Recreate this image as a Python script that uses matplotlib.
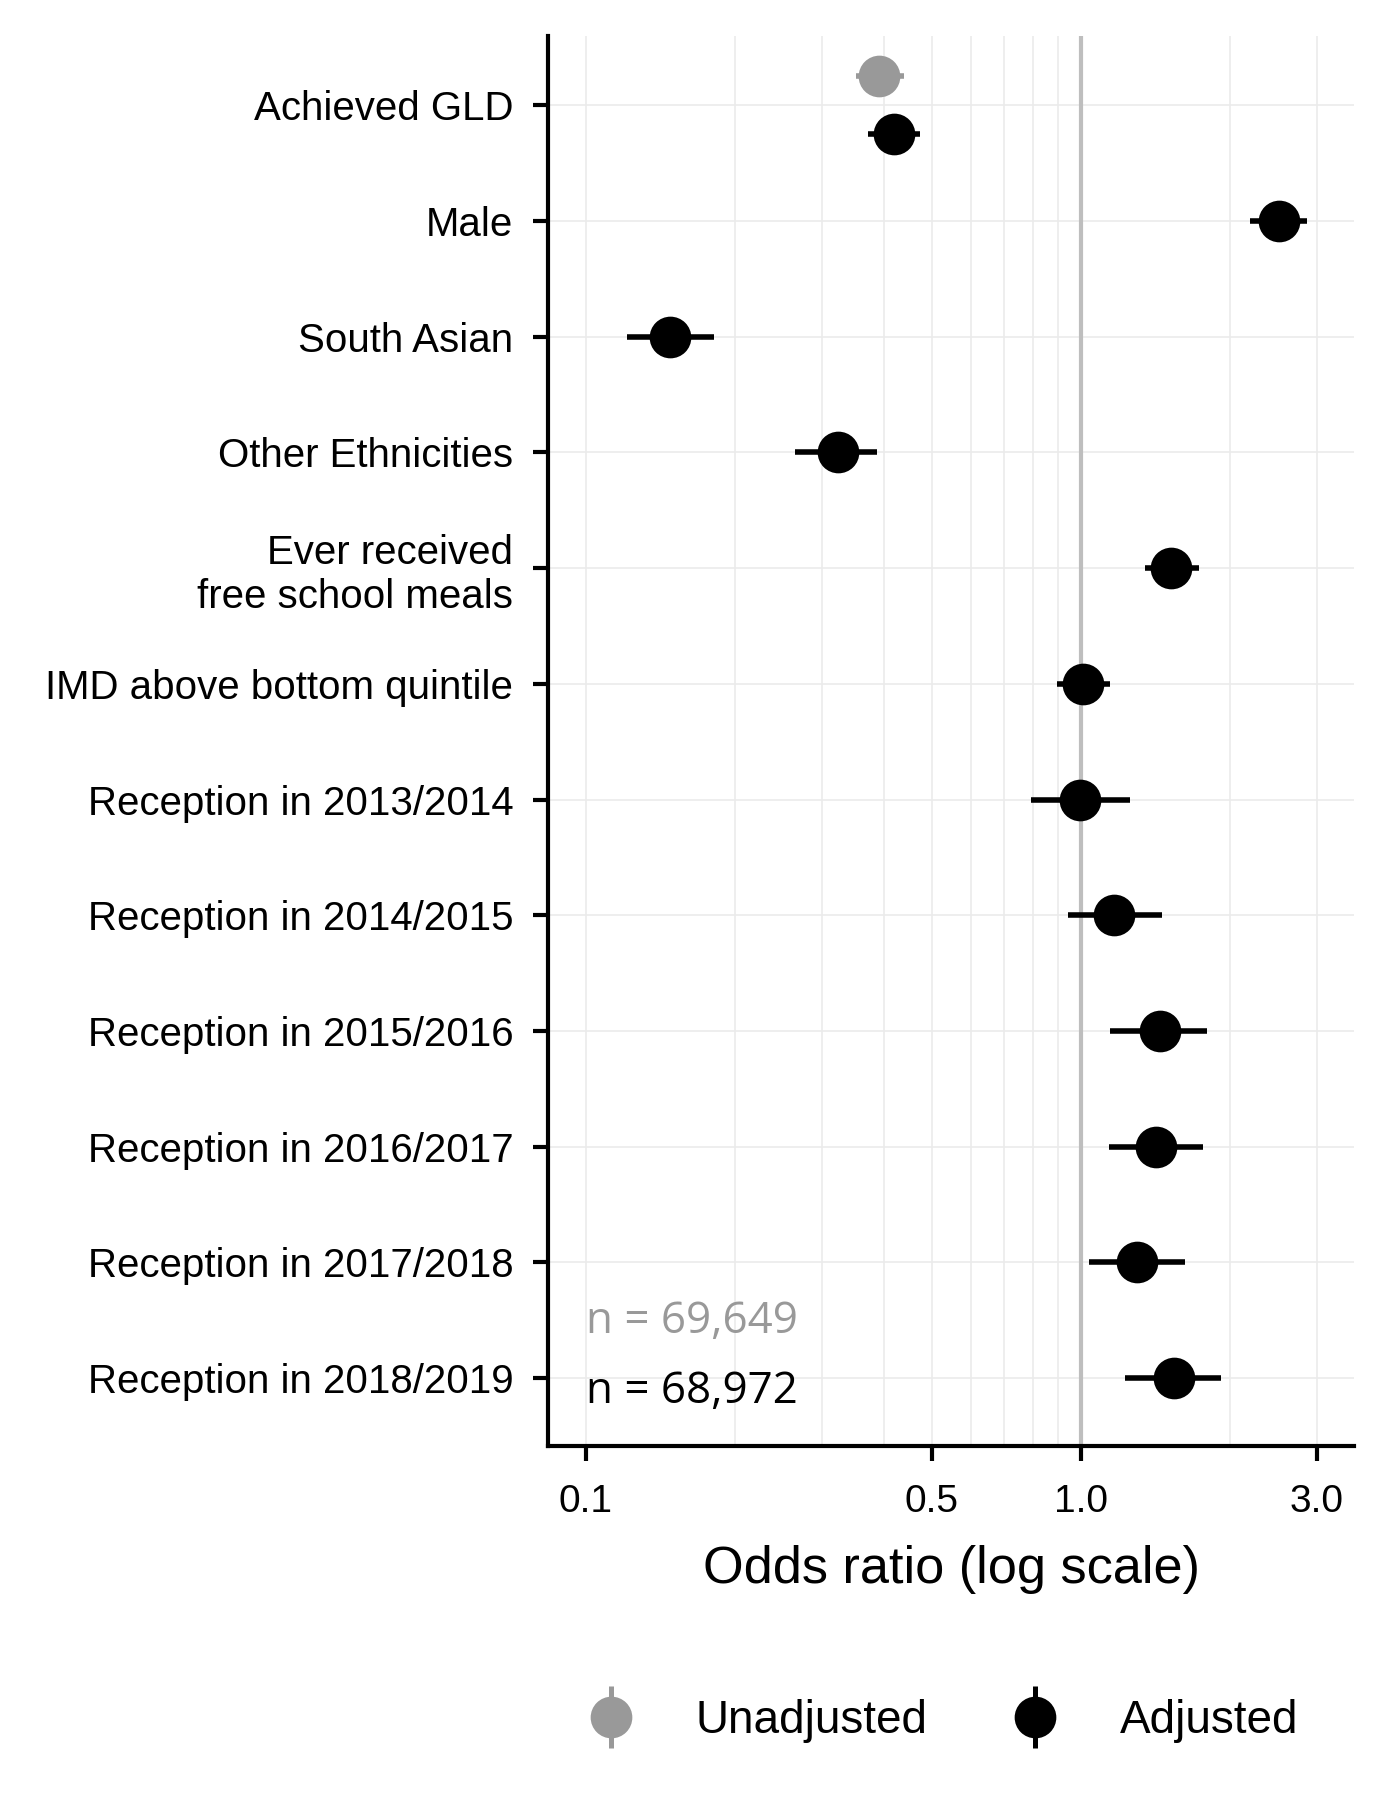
import numpy as np
import matplotlib
matplotlib.use('Agg')
import matplotlib.pyplot as plt
from matplotlib.lines import Line2D

plt.rcParams['font.family'] = ['Liberation Sans', 'DejaVu Sans']

## categories, top to bottom
categories = ['Achieved GLD', 'Male', 'South Asian', 'Other Ethnicities',
              'Ever received\nfree school meals', 'IMD above bottom quintile',
              'Reception in 2013/2014', 'Reception in 2014/2015',
              'Reception in 2015/2016', 'Reception in 2016/2017',
              'Reception in 2017/2018', 'Reception in 2018/2019']

## adjusted odds ratios with 95% CI
adj_or = [0.420, 2.515, 0.148, 0.323, 1.524, 1.011, 0.997, 1.167, 1.444, 1.421, 1.298, 1.540]
adj_lo = [0.371, 2.200, 0.121, 0.265, 1.348, 0.894, 0.795, 0.943, 1.148, 1.142, 1.038, 1.231]
adj_hi = [0.474, 2.870, 0.182, 0.387, 1.731, 1.148, 1.258, 1.460, 1.798, 1.769, 1.624, 1.917]

## unadjusted (only the exposure)
unadj_cat = ['Achieved GLD']
unadj_or = [0.391]
unadj_lo = [0.351]
unadj_hi = [0.440]

n_unadj = 'n = 69,649'
n_adj = 'n = 68,972'

grey = '#999999'

fig = plt.figure(figsize=(6.945, 9), dpi=200)
ax = fig.add_axes([0.3945, 0.1965, 0.5805, 0.7835])

ypos = np.arange(len(categories))
# dodge rows that have both estimates
dodge = np.array([0.25 if c in unadj_cat else 0.0 for c in categories])

ax.axvline(1.0, color='#BEBEBE', lw=1.5, zorder=1)

y_adj = ypos + dodge
ax.hlines(y_adj, adj_lo, adj_hi, color='black', lw=2.0, zorder=3)
ax.plot(adj_or, y_adj, 'o', color='black', ms=14, zorder=4)

y_un = np.array([categories.index(c) for c in unadj_cat]) - 0.25
ax.hlines(y_un, unadj_lo, unadj_hi, color=grey, lw=2.0, zorder=3)
ax.plot(unadj_or, y_un, 'o', color=grey, ms=14, zorder=4)

ax.text(0.1, 10.51, n_unadj, color=grey, fontsize=15.8, va='center', ha='left',
        family=['Open Sans', 'DejaVu Sans'])
ax.text(0.1, 11.12, n_adj, color='black', fontsize=15.8, va='center', ha='left',
        family=['Open Sans', 'DejaVu Sans'])

ax.set_xscale('log')
ax.set_xlim(0.0839, 3.57)
ax.set_ylim(11.59, -0.6)
ax.set_xticks([0.1, 0.5, 1.0, 3.0])
ax.set_xticklabels(['0.1', '0.5', '1.0', '3.0'])
ax.set_xticks([0.2, 0.3, 0.4, 0.6, 0.7, 0.8, 0.9, 2.0], minor=True)
ax.xaxis.set_minor_formatter(plt.NullFormatter())
ax.set_yticks(ypos)
ax.set_yticklabels(categories)

ax.grid(True, which='both', axis='x', color='#EBEBEB', lw=0.6, zorder=0)
ax.grid(True, which='major', axis='y', color='#EBEBEB', lw=0.6, zorder=0)
ax.set_axisbelow(True)

for s in ['top', 'right']:
    ax.spines[s].set_visible(False)
for s in ['left', 'bottom']:
    ax.spines[s].set_linewidth(1.5)
ax.tick_params(axis='both', which='major', length=5.5, width=1.5, color='black')
ax.tick_params(axis='y', labelsize=14.5, pad=7)
ax.tick_params(axis='x', labelsize=14, pad=8)
ax.tick_params(axis='x', which='minor', length=0)

ax.set_xlabel('Odds ratio (log scale)', fontsize=18.8, labelpad=9)

h_un = (Line2D([], [], marker='|', ms=22, mew=1.8, color=grey, ls='none'),
        Line2D([], [], marker='o', ms=14, color=grey, ls='none'))
h_adj = (Line2D([], [], marker='|', ms=22, mew=1.8, color='black', ls='none'),
         Line2D([], [], marker='o', ms=14, color='black', ls='none'))
fig.legend([h_un, h_adj], ['Unadjusted', 'Adjusted'], loc='center',
           bbox_to_anchor=(0.675, 0.044), ncol=2, frameon=False, fontsize=16.5,
           handletextpad=1.1, columnspacing=1.6, handlelength=1.5)

plt.savefig('out.png', dpi=200)
